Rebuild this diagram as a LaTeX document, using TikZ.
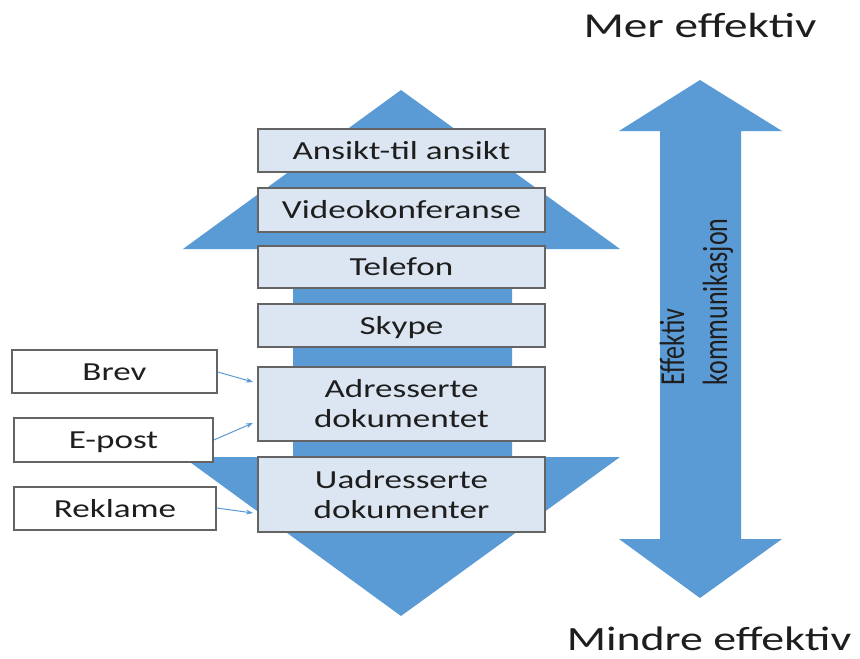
\documentclass[tikz,border=0pt]{standalone}
\usepackage{fontspec}
\setmainfont{Carlito}[FakeStretch=1.35]
\newfontfamily\rotfont{Carlito}
\usepackage{graphicx}
\usetikzlibrary{arrows.meta}
\definecolor{arrowblue}{HTML}{5B9BD5}
\definecolor{boxfill}{HTML}{DCE6F2}
\definecolor{boxline}{HTML}{646464}
\definecolor{txt}{HTML}{1E1E1E}
\begin{document}
\begin{tikzpicture}[x=1pt,y=-1pt,
  lvl/.style={draw=boxline, line width=1.5pt, fill=boxfill, minimum width=287pt, inner sep=0pt, text=txt, font=\fontsize{26}{30}\selectfont, align=center},
  one/.style={text height=17pt, text depth=0pt},
  src/.style={draw=boxline, line width=1.5pt, fill=white, inner sep=0pt, text=txt, font=\fontsize{26}{30}\selectfont, text height=17pt, text depth=0pt},
  link/.style={draw=arrowblue, line width=1pt, -{Stealth[length=7pt,width=5pt]}},
  big/.style={fill=arrowblue},
  head/.style={text=txt, font=\fontsize{35}{40}\selectfont, inner sep=0pt}
]
\useasboundingbox (0,0) rectangle (860,659);
\fill[white] (0,0) rectangle (860,659);
% central double arrow
\path[big] (401,90) -- (620,249) -- (512,249) -- (512,457) -- (620,457) -- (401,616)
  -- (183,457) -- (293,457) -- (293,249) -- (183,249) -- cycle;
% right double arrow
\path[big] (700,80) -- (782,131) -- (741,131) -- (741,539) -- (782,539) -- (700,598)
  -- (619,539) -- (660,539) -- (660,131) -- (619,131) -- cycle;
% level boxes
\node[lvl, one, minimum height=43pt] (ansikt) at (401.5,150.5) {Ansikt-til ansikt};
\node[lvl, one, minimum height=44pt] (video) at (401.5,210) {Videokonferanse};
\node[lvl, one, minimum height=42pt] (tlf) at (401.5,267) {Telefon};
\node[lvl, one, minimum height=43pt] (skype) at (401.5,325.5) {Skype};
\node[lvl, minimum height=74pt] (adr) at (401.5,404) {Adresserte\\dokumentet};
\node[lvl, minimum height=75pt] (uadr) at (401.5,494.5) {Uadresserte\\dokumenter};
% source boxes
\node[src, minimum width=205pt, minimum height=43pt] (brev) at (114.5,371.5) {Brev};
\node[src, minimum width=199pt, minimum height=44pt] (epost) at (113.5,440) {E-post};
\node[src, minimum width=202pt, minimum height=43pt] (rekl) at (115,508.5) {Reklame};
% connector ends
\coordinate (brevend) at (253,382);
\coordinate (epostend) at (253,423);
\coordinate (reklend) at (253,513);
\draw[link] (brev.east |- 0,372) -- (brevend);
\draw[link] (epost.east |- 0,440) -- (epostend);
\draw[link] (rekl.east |- 0,508) -- (reklend);
% rotated label
\node[rotate=90, text=txt, inner sep=0pt] (eff) at (697,302)
  {\scalebox{1}[1.35]{\rotfont\fontsize{26}{32}\selectfont\begin{tabular}{@{}l@{}}Effektiv\\kommunikasjon\end{tabular}}};
% headings
\node[head, anchor=base] (mer) at (700,37) {Mer effektiv};
\node[head, anchor=base, font=\fontsize{34}{40}\selectfont] (mindre) at (709,650) {Mindre effektiv};
\end{tikzpicture}
\end{document}
